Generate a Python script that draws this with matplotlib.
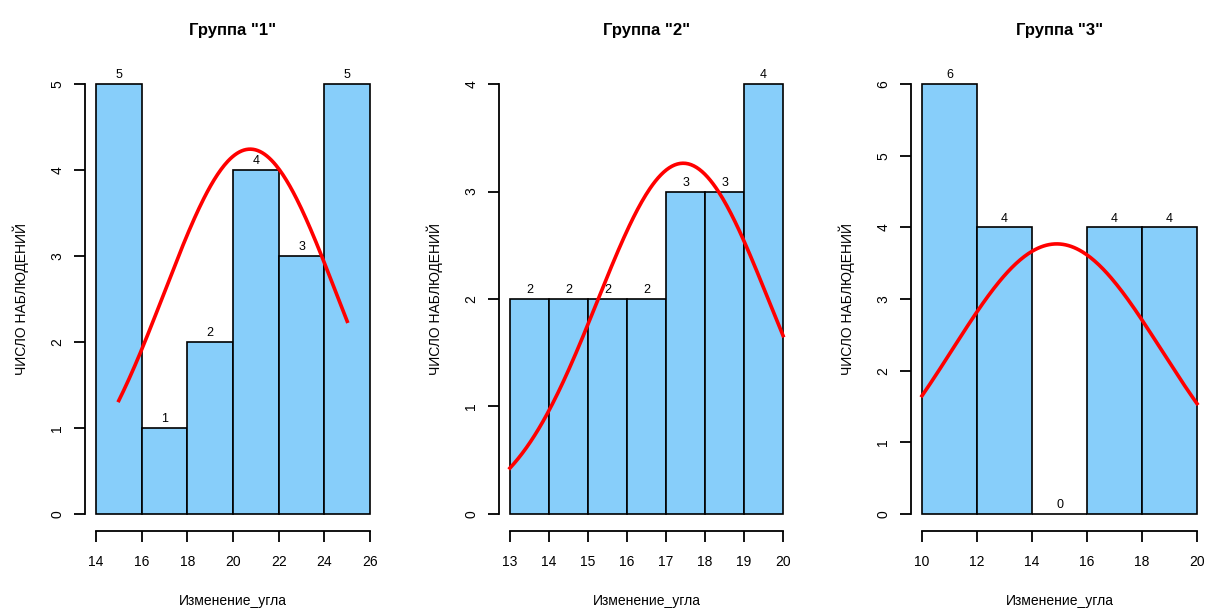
import numpy as np
import matplotlib
matplotlib.use("Agg")
from matplotlib import pyplot as plt

plt.rcParams['font.family'] = ['Liberation Sans', 'DejaVu Sans']

titles = ['Группа "1"', 'Группа "2"', 'Группа "3"']
xlabel = "Изменение_угла"
ylabel = "ЧИСЛО НАБЛЮДЕНИЙ"

breaks1 = [14, 16, 18, 20, 22, 24, 26]
counts1 = [5, 1, 2, 4, 3, 5]
breaks2 = [13, 14, 15, 16, 17, 18, 19, 20]
counts2 = [2, 2, 2, 2, 3, 3, 4]
breaks3 = [10, 12, 14, 16, 18, 20]
counts3 = [6, 4, 0, 4, 4]

# normal curve parameters (mean, sd)
norm1 = (20.75, 3.76)
norm2 = (17.44, 2.20)
norm3 = (14.9, 3.81)

# axes boxes in pixels: left, right (top 67, bottom 531)
boxes = [(85, 381), (499, 794), (911, 1208)]

W, H = 1207, 610
fig = plt.figure(figsize=(W / 100, H / 100), dpi=100)

panels = [(breaks1, counts1, norm1), (breaks2, counts2, norm2), (breaks3, counts3, norm3)]
for i, (br, cnt, (mu, sd)) in enumerate(panels):
    l, r = boxes[i]
    ax = fig.add_axes([l / W, (H - 531) / H, (r - l) / W, (531 - 67) / H])
    br = np.array(br, dtype=float)
    cnt = np.array(cnt)
    bw = br[1] - br[0]
    ax.bar(br[:-1], cnt, width=bw, align='edge', color='#87CEFA',
           edgecolor='black', linewidth=1.2, zorder=2)
    for x0, c in zip(br[:-1], cnt):
        ax.annotate(str(c), (x0 + bw / 2, c), xytext=(0, 2), textcoords='offset points',
                    ha='center', va='bottom', fontsize=9, zorder=4)
    # fitted normal curve; group 1 is drawn over the bin midpoints only
    mids = (br[:-1] + br[1:]) / 2
    if i == 0:
        xs = np.linspace(mids[0], mids[-1], 200)
    else:
        xs = np.linspace(br[0], br[-1], 200)
    n = cnt.sum()
    ys = n * bw * np.exp(-0.5 * ((xs - mu) / sd) ** 2) / (sd * np.sqrt(2 * np.pi))
    ax.plot(xs, ys, color='red', linewidth=2.6, zorder=3)

    xr = br[-1] - br[0]
    ymax = cnt.max()
    ax.set_xlim(br[0] - 0.04 * xr, br[-1] + 0.04 * xr)
    ax.set_ylim(-0.04 * ymax, ymax * 1.04)
    ax.set_xticks(br)
    ax.set_yticks(range(0, ymax + 1))
    for s in ['top', 'right']:
        ax.spines[s].set_visible(False)
    ax.spines['left'].set_bounds(0, ymax)
    ax.spines['bottom'].set_bounds(br[0], br[-1])
    for s in ['left', 'bottom']:
        ax.spines[s].set_linewidth(1.3)
    ax.tick_params(direction='out', length=8, width=1.3, labelsize=10)
    ax.tick_params(axis='x', pad=9)
    ax.tick_params(axis='y', pad=7)
    for lab in ax.get_yticklabels():
        lab.set_rotation(90)
        lab.set_va('center')
    ax.set_title(titles[i], fontsize=12, fontweight='bold', pad=23)
    ax.set_xlabel(xlabel, fontsize=10)
    ax.xaxis.set_label_coords(0.5, -(601 - 531) / 464)
    ax.xaxis.label.set_va('center')
    ax.set_ylabel(ylabel, fontsize=10)
    ax.yaxis.set_label_coords(-64 / (r - l), 0.5)
    ax.yaxis.label.set_va('center')

fig.savefig("out.png", dpi=100)
